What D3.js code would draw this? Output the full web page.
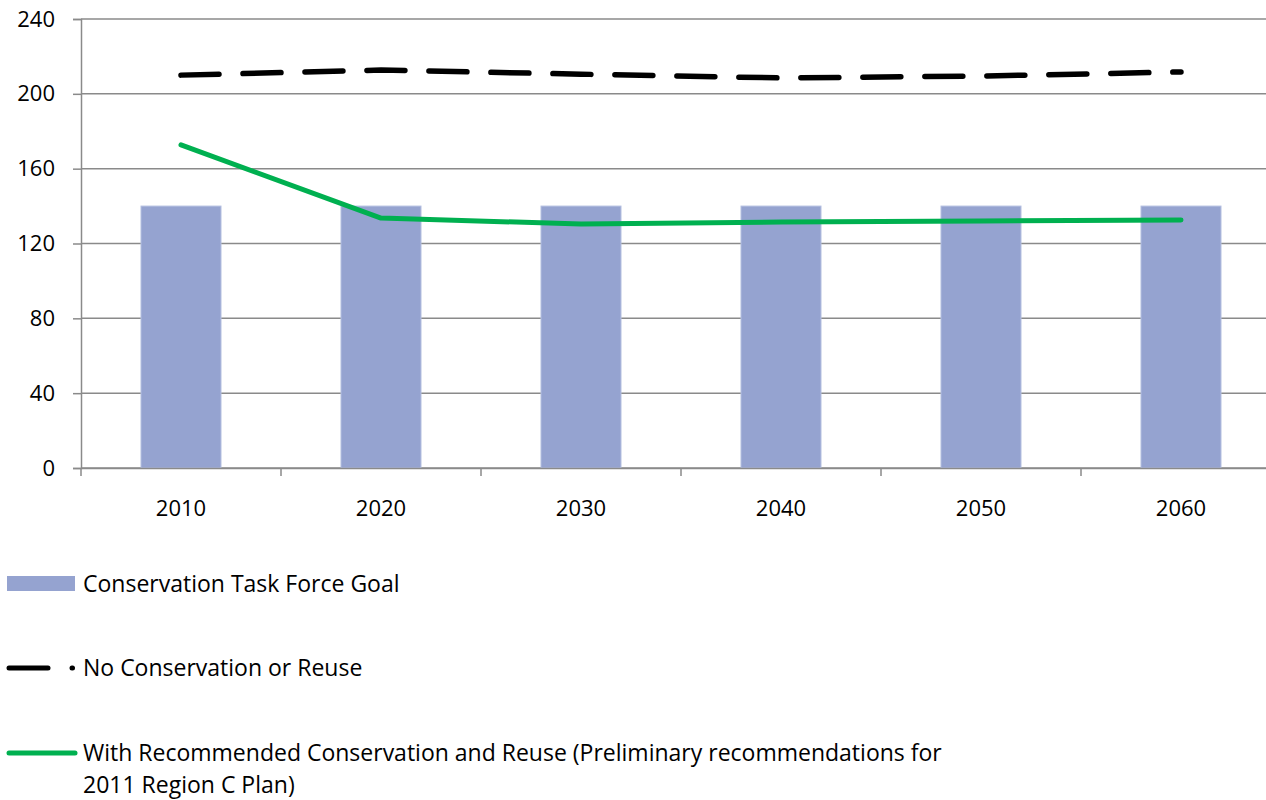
<!DOCTYPE html>
<html><head><meta charset="utf-8">
<script src="https://cdn.jsdelivr.net/npm/d3@7"></script>
<style>html,body{margin:0;padding:0;background:#fff;overflow:hidden}svg{display:block}</style>
</head><body>
<svg id="chart" width="1266" height="800"></svg>
<script>
const years = ["2010","2020","2030","2040","2050","2060"];
const goalValues = [140,140,140,140,140,140];
const noConservation = [210,212.7,210.5,208.5,209.5,211.7];
const withRecommended = [172.7,133.6,130.4,131.5,132,132.6];
const yTicks = [0,40,80,120,160,200,240];
const legendLabels = ["Conservation Task Force Goal","No Conservation or Reuse","With Recommended Conservation and Reuse (Preliminary recommendations for","2011 Region C Plan)"];

(function(){
const font = "'Open Sans', Lato, sans-serif";
const svg = d3.select("#chart");
const pL = 81, pR = 1281, pT = 19, pB = 468;
const x = d3.scaleBand().domain(years).range([pL,pR]).paddingInner(0.6).paddingOuter(0.3);
const xb = d3.scaleBand().domain(years).range([pL,pR]);
const y = d3.scaleLinear().domain([0,240]).range([pB,pT]);
const grid = "#8a8a8a";

svg.append("g").selectAll("line").data(yTicks).join("line")
  .attr("x1",pL).attr("x2",pR).attr("y1",d=>y(d)).attr("y2",d=>y(d))
  .attr("stroke",grid).attr("stroke-width",1.5);

const ya = svg.append("g").attr("transform",`translate(${pL},0)`)
  .call(d3.axisLeft(y).tickValues(yTicks).tickSize(8).tickPadding(18));
ya.select(".domain").attr("stroke",grid).attr("stroke-width",1.5);
ya.selectAll(".tick line").attr("stroke",grid).attr("stroke-width",1.5);
ya.selectAll("text").attr("font-family",font).attr("font-size",22).attr("fill","#000");

svg.append("g").selectAll("rect").data(years).join("rect")
  .attr("x",d=>x(d)).attr("width",x.bandwidth())
  .attr("y",(d,i)=>y(goalValues[i])).attr("height",(d,i)=>pB-y(goalValues[i]))
  .attr("fill","#95A3D0").attr("stroke","#b4bfe0").attr("stroke-width",1);

const xa = svg.append("g").attr("transform",`translate(0,${pB})`)
  .call(d3.axisBottom(xb).tickSize(0).tickPadding(32));
xa.select(".domain").attr("stroke",grid).attr("stroke-width",1.5);
xa.selectAll("text").attr("font-family",font).attr("font-size",22).attr("fill","#000");
svg.append("g").selectAll("line").data(years).join("line")
  .attr("x1",d=>xb(d)).attr("x2",d=>xb(d)).attr("y1",pB).attr("y2",pB+8)
  .attr("stroke",grid).attr("stroke-width",1.5);

const cx = d=>xb(d)+xb.bandwidth()/2;
const line = vals => d3.line().x((d,i)=>cx(years[i])).y(d=>y(d))(vals);

svg.append("path").attr("d",line(noConservation)).attr("fill","none")
  .attr("stroke","#000").attr("stroke-width",5.5).attr("stroke-linecap","round")
  .attr("stroke-dasharray","38,24");
svg.append("path").attr("d",line(withRecommended)).attr("fill","none")
  .attr("stroke","#00B050").attr("stroke-width",5).attr("stroke-linecap","round").attr("stroke-linejoin","round");

const lg = svg.append("g");
lg.append("rect").attr("x",7).attr("y",576).attr("width",68).attr("height",15).attr("fill","#95A3D0");
lg.append("line").attr("x1",9).attr("x2",48).attr("y1",668).attr("y2",668).attr("stroke","#000").attr("stroke-width",5).attr("stroke-linecap","round");
lg.append("line").attr("x1",72).attr("x2",72.5).attr("y1",668).attr("y2",668).attr("stroke","#000").attr("stroke-width",5).attr("stroke-linecap","round");
lg.append("line").attr("x1",9).attr("x2",75).attr("y1",753).attr("y2",753).attr("stroke","#00B050").attr("stroke-width",5).attr("stroke-linecap","round");
const ly = [584,668,753,785];
lg.selectAll("text").data(legendLabels).join("text")
  .attr("x",83).attr("y",(d,i)=>ly[i]).attr("dy","0.35em")
  .attr("font-family",font).attr("font-size",23).attr("fill","#000").text(d=>d);
})();
</script>
</body></html>
